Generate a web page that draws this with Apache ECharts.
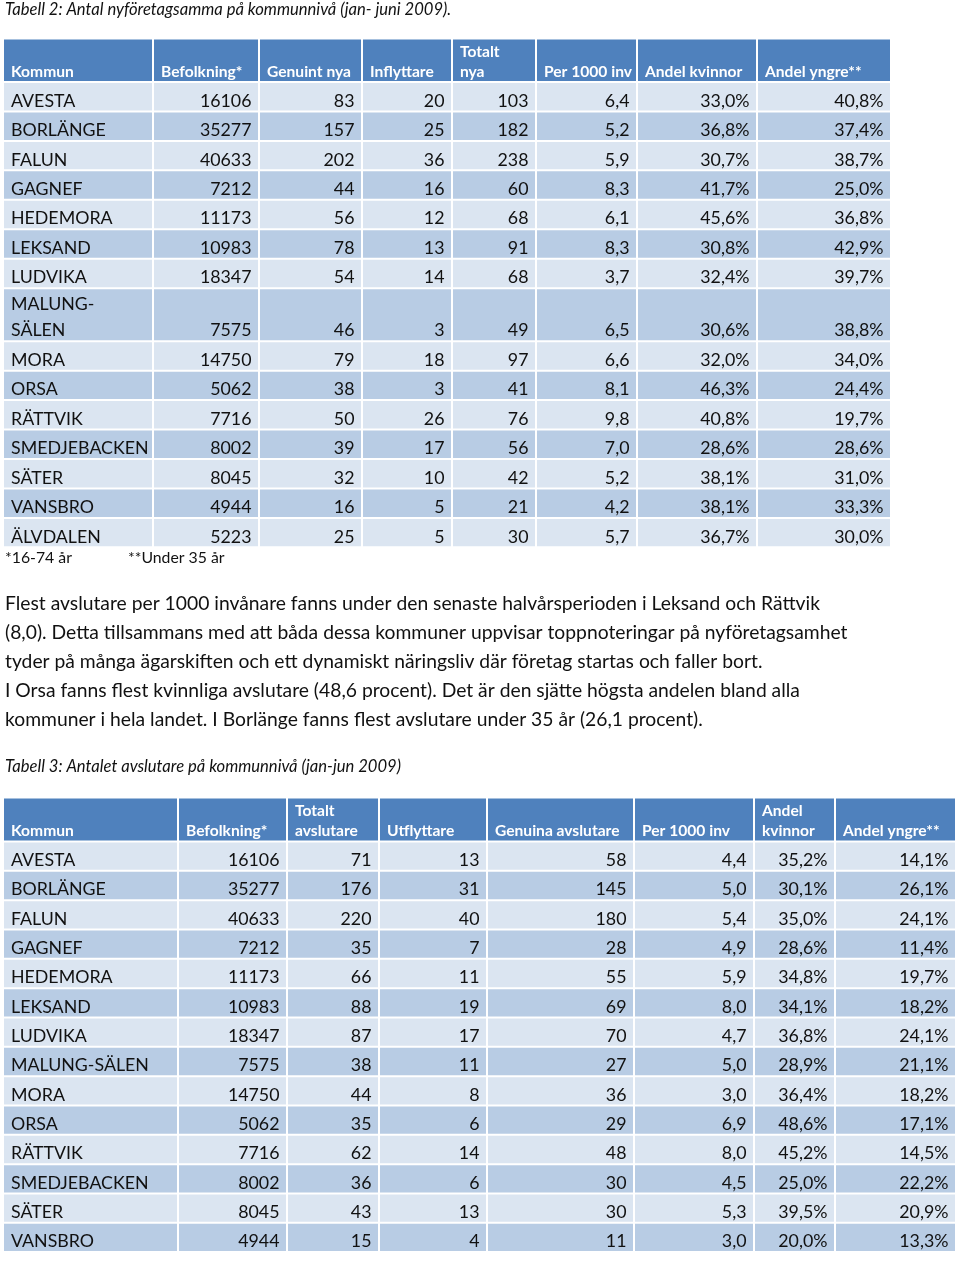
<!DOCTYPE html>
<html><head><meta charset="utf-8">
<script src="https://cdn.jsdelivr.net/npm/echarts@6/dist/echarts.min.js"></script>
<style>html,body{margin:0;padding:0;background:#fff}#c{width:960px;height:1261px}</style>
</head><body><div id="c"></div><script>
// ---------- Tabell 2 data ----------
const t1Headers = ['Kommun','Befolkning*','Genuint nya','Inflyttare','Totalt\nnya','Per 1000 inv','Andel kvinnor','Andel yngre**'];
const t1Kommun = ['AVESTA','BORLÄNGE','FALUN','GAGNEF','HEDEMORA','LEKSAND','LUDVIKA','MALUNG-\nSÄLEN','MORA','ORSA','RÄTTVIK','SMEDJEBACKEN','SÄTER','VANSBRO','ÄLVDALEN'];
const t1Befolkning = [16106,35277,40633,7212,11173,10983,18347,7575,14750,5062,7716,8002,8045,4944,5223];
const t1GenuintNya = [83,157,202,44,56,78,54,46,79,38,50,39,32,16,25];
const t1Inflyttare = [20,25,36,16,12,13,14,3,18,3,26,17,10,5,5];
const t1TotaltNya = [103,182,238,60,68,91,68,49,97,41,76,56,42,21,30];
const t1Per1000 = [6.4,5.2,5.9,8.3,6.1,8.3,3.7,6.5,6.6,8.1,9.8,7.0,5.2,4.2,5.7];
const t1AndelKvinnor = [33.0,36.8,30.7,41.7,45.6,30.8,32.4,30.6,32.0,46.3,40.8,28.6,38.1,38.1,36.7];
const t1AndelYngre = [40.8,37.4,38.7,25.0,36.8,42.9,39.7,38.8,34.0,24.4,19.7,28.6,31.0,33.3,30.0];

// ---------- Tabell 3 data ----------
const t2Headers = ['Kommun','Befolkning*','Totalt\navslutare','Utflyttare','Genuina avslutare','Per 1000 inv','Andel\nkvinnor','Andel yngre**'];
const t2Kommun = ['AVESTA','BORLÄNGE','FALUN','GAGNEF','HEDEMORA','LEKSAND','LUDVIKA','MALUNG-SÄLEN','MORA','ORSA','RÄTTVIK','SMEDJEBACKEN','SÄTER','VANSBRO'];
const t2Befolkning = [16106,35277,40633,7212,11173,10983,18347,7575,14750,5062,7716,8002,8045,4944];
const t2TotaltAvslutare = [71,176,220,35,66,88,87,38,44,35,62,36,43,15];
const t2Utflyttare = [13,31,40,7,11,19,17,11,8,6,14,6,13,4];
const t2GenuinaAvslutare = [58,145,180,28,55,69,70,27,36,29,48,30,30,11];
const t2Per1000 = [4.4,5.0,5.4,4.9,5.9,8.0,4.7,5.0,3.0,6.9,8.0,4.5,5.3,3.0];
const t2AndelKvinnor = [35.2,30.1,35.0,28.6,34.8,34.1,36.8,28.9,36.4,48.6,45.2,25.0,39.5,20.0];
const t2AndelYngre = [14.1,26.1,24.1,11.4,19.7,18.2,24.1,21.1,18.2,17.1,14.5,22.2,20.9,13.3];

// ---------- texts ----------
const caption1 = 'Tabell 2: Antal nyföretagsamma på kommunnivå (jan- juni 2009).';
const caption2 = 'Tabell 3: Antalet avslutare på kommunnivå (jan-jun 2009)';
const footnote1 = '*16-74 år';
const footnote2 = '**Under 35 år';
const paragraph = [
  'Flest avslutare per 1000 invånare fanns under den senaste halvårsperioden i Leksand och Rättvik',
  '(8,0). Detta tillsammans med att båda dessa kommuner uppvisar toppnoteringar på nyföretagsamhet',
  'tyder på många ägarskiften och ett dynamiskt näringsliv där företag startas och faller bort.',
  'I Orsa fanns flest kvinnliga avslutare (48,6 procent). Det är den sjätte högsta andelen bland alla',
  'kommuner i hela landet. I Borlänge fanns flest avslutare under 35 år (26,1 procent).'
];

// ---------- formatting ----------
const fInt = v => String(v);
const fDec = v => v.toFixed(1).replace('.', ',');
const fPct = v => v.toFixed(1).replace('.', ',') + '%';

const FONT = 'Lato, "Noto Sans", sans-serif';
const S = { body: 17.8, head: 15.6, para: 19.3, cap: 16.6, foot: 15.8 };

function buildLayout(colEdges, top, headerH, rowH, extraLineH, labels) {
  const rowEdges = [top, top + headerH];
  labels.forEach(l => {
    const n = l.split('\n').length;
    rowEdges.push(rowEdges[rowEdges.length - 1] + rowH + (n - 1) * extraLineH);
  });
  return { colEdges, rowEdges };
}
const L1 = buildLayout([3,153,259,362,452,536,637,757,891], 38.5, 43.5, 29.45, 23.6, t1Kommun);
const L2 = buildLayout([3,178,287,379,487,634,754,835,956], 797.5, 44, 29.33, 23.6, t2Kommun);

function buildCells(headers, columns, formats) {
  const cells = [];
  headers.forEach((h, c) => cells.push({ col: c, row: 0, text: h, header: true }));
  columns[0].forEach((_, r) => {
    columns.forEach((arr, c) => {
      cells.push({ col: c, row: r + 1, text: formats[c](arr[r]), header: false });
    });
  });
  return cells;
}
const cells1 = buildCells(t1Headers,
  [t1Kommun, t1Befolkning, t1GenuintNya, t1Inflyttare, t1TotaltNya, t1Per1000, t1AndelKvinnor, t1AndelYngre],
  [String, fInt, fInt, fInt, fInt, fDec, fPct, fPct]);
const cells2 = buildCells(t2Headers,
  [t2Kommun, t2Befolkning, t2TotaltAvslutare, t2Utflyttare, t2GenuinaAvslutare, t2Per1000, t2AndelKvinnor, t2AndelYngre],
  [String, fInt, fInt, fInt, fInt, fDec, fPct, fPct]);

function makeRender(layout, cells) {
  return function (params, api) {
    const cell = cells[params.dataIndex];
    const col = api.value(0), row = api.value(1);
    const p0 = api.coord([layout.colEdges[col], layout.rowEdges[row]]);
    const p1 = api.coord([layout.colEdges[col + 1], layout.rowEdges[row + 1]]);
    const x0 = p0[0], y0 = p0[1], x1 = p1[0], y1 = p1[1];
    const fill = cell.header ? '#4F81BD' : (row % 2 === 1 ? '#DBE5F1' : '#B8CCE4');
    const children = [{
      type: 'rect',
      shape: { x: x0 + 1, y: y0 + 1, width: x1 - x0 - 2, height: y1 - y0 - 2 },
      style: { fill: fill }
    }];
    const lines = cell.text.split('\n');
    const lh = cell.header ? 20 : 26.5;
    const alignLeft = cell.header || col === 0;
    lines.forEach((ln, i) => {
      children.push({
        type: 'text',
        style: {
          text: ln,
          x: alignLeft ? x0 + 8 : x1 - 7.5,
          y: y1 - 10.5 - (lines.length - 1 - i) * lh,
          align: alignLeft ? 'left' : 'right',
          verticalAlign: 'middle',
          fill: cell.header ? '#FFFFFF' : '#111111',
          fontFamily: FONT,
          fontSize: cell.header ? S.head : S.body,
          fontWeight: cell.header ? 'bold' : 'normal'
        }
      });
    });
    return { type: 'group', children: children };
  };
}

const chart = echarts.init(document.getElementById('c'), null, { renderer: 'canvas' });
const graphics = [
  { type: 'text', x: 5, y: 9.5, style: { text: caption1, fill: '#111', fontFamily: FONT, fontSize: S.cap, fontStyle: 'italic', verticalAlign: 'middle' } },
  { type: 'text', x: 5, y: 766.5, style: { text: caption2, fill: '#111', fontFamily: FONT, fontSize: S.cap, fontStyle: 'italic', verticalAlign: 'middle' } },
  { type: 'text', x: 5, y: 558, style: { text: footnote1, fill: '#111', fontFamily: FONT, fontSize: S.foot, verticalAlign: 'middle' } },
  { type: 'text', x: 128, y: 558, style: { text: footnote2, fill: '#111', fontFamily: FONT, fontSize: S.foot, verticalAlign: 'middle' } }
];
paragraph.forEach((ln, i) => graphics.push({
  type: 'text', x: 5, y: 603.5 + i * 29.1,
  style: { text: ln, fill: '#111', fontFamily: FONT, fontSize: S.para, verticalAlign: 'middle' }
}));

chart.setOption({
  animation: false,
  backgroundColor: '#ffffff',
  grid: { left: 0, top: 0, right: 0, bottom: 0 },
  xAxis: { type: 'value', min: 0, max: 960, show: false },
  yAxis: { type: 'value', min: 0, max: 1261, inverse: true, show: false },
  graphic: graphics,
  series: [
    { type: 'custom', name: 'Tabell 2', coordinateSystem: 'cartesian2d', clip: false,
      data: cells1.map(c => [c.col, c.row]), renderItem: makeRender(L1, cells1) },
    { type: 'custom', name: 'Tabell 3', coordinateSystem: 'cartesian2d', clip: false,
      data: cells2.map(c => [c.col, c.row]), renderItem: makeRender(L2, cells2) }
  ]
});
</script></body></html>
